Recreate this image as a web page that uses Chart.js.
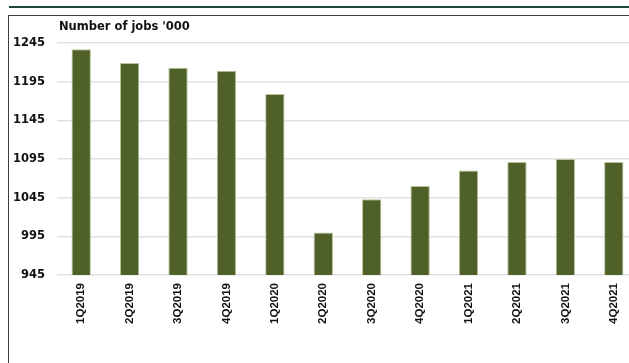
<!DOCTYPE html>
<html>
<head>
<meta charset="utf-8">
<script src="https://cdn.jsdelivr.net/npm/chart.js@4"></script>
<style>
  html, body { margin: 0; padding: 0; background: #fff; overflow: hidden; }
  #wrap { position: relative; width: 629px; height: 363px; overflow: hidden; }
  #rule { position: absolute; left: 9px; top: 6px; width: 640px; height: 2px; background: #1d4a36; }
  #frame { position: absolute; left: 8px; top: 15px; width: 660px; height: 400px;
           border-left: 1.5px solid #3c3c3c; border-top: 1.5px solid #3c3c3c; box-sizing: border-box; }
  #jobs { position: absolute; left: 0; top: 0; }
</style>
</head>
<body>
<div id="wrap">
  <div id="rule"></div>
  <div id="frame"></div>
  <canvas id="jobs" width="640" height="363"></canvas>
</div>
<script>
// Quarters and employment (thousands of jobs)
const quarters = ["1Q2019", "2Q2019", "3Q2019", "4Q2019", "1Q2020", "2Q2020",
                  "3Q2020", "4Q2020", "1Q2021", "2Q2021", "3Q2021", "4Q2021"];
const jobs = [1237, 1219, 1213, 1209, 1179, 1000, 1043, 1060, 1080, 1091, 1095, 1091];
const yMin = 945;
const yMax = 1245;
const yStep = 50;
const unitLabel = "Number of jobs '000";

// Unit label drawn above the plot
const unitTitle = {
  id: "unitTitle",
  afterDraw(chart) {
    const ctx = chart.ctx;
    ctx.save();
    ctx.font = "bold 11.5px 'DejaVu Sans'";
    ctx.fillStyle = "#111";
    ctx.textBaseline = "middle";
    ctx.fillText(unitLabel, 59, 27);
    ctx.restore();
  },
};

new Chart(document.getElementById("jobs"), {
  type: "bar",
  plugins: [unitTitle],
  data: {
    labels: quarters,
    datasets: [
      {
        data: jobs,
        backgroundColor: "#4f6128",
        borderColor: "#b9c49a",
        borderWidth: 1,
        barPercentage: 0.4,
        categoryPercentage: 1,
      },
    ],
  },
  options: {
    responsive: false,
    animation: false,
    devicePixelRatio: 1,
    layout: { padding: { top: 43, right: 2, bottom: 0, left: 0 } },
    plugins: {
      legend: { display: false },
      tooltip: { enabled: false },
    },
    scales: {
      x: {
        grid: { display: false, drawTicks: false },
        border: { display: false },
        ticks: {
          autoSkip: false,
          minRotation: 90,
          maxRotation: 90,
          padding: 8,
          color: "#111",
          font: { family: "'Liberation Sans', Arial", weight: "bold", size: 11.5 },
        },
        afterFit(scale) {
          scale.height = 88;
        },
      },
      y: {
        min: yMin,
        max: yMax,
        grid: { color: "#e2e2e2", lineWidth: 1.5, drawTicks: false },
        border: { display: false },
        ticks: {
          stepSize: yStep,
          padding: 12,
          color: "#111",
          font: { family: "'DejaVu Sans'", weight: "bold", size: 11.5 },
          callback: (value) => String(value),
        },
        afterFit(scale) {
          scale.width = 57;
        },
      },
    },
  },
});
</script>
</body>
</html>
